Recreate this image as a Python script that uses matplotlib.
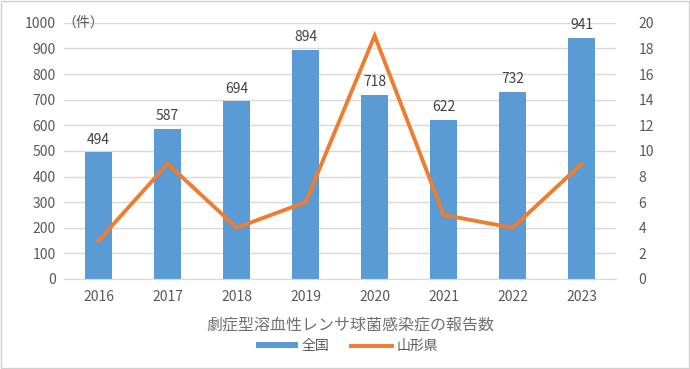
import matplotlib
matplotlib.use("Agg")
import matplotlib.pyplot as plt
from matplotlib.patches import Rectangle

plt.rcParams["font.family"] = ["Noto Sans CJK JP", "DejaVu Sans"]

years = ["2016", "2017", "2018", "2019", "2020", "2021", "2022", "2023"]
national = [494, 587, 694, 894, 718, 622, 732, 941]
yamagata = [3, 9, 4, 6, 19, 5, 4, 9]

BLUE = "#5b9bd5"
ORANGE = "#ed7d31"
GRAY = "#595959"
GRID = "#d9d9d9"

fig = plt.figure(figsize=(6.9, 3.69), dpi=100)
ax = fig.add_axes([0.093, 0.244, 0.800, 0.694])
ax2 = ax.twinx()

x = list(range(len(years)))
bars = ax.bar(x, national, width=0.39, color=BLUE, zorder=2, label="全国")
for b, v in zip(bars, national):
    ax.text(b.get_x() + b.get_width() / 2, v + 22, str(v), ha="center",
            va="bottom", fontsize=10, color="#404040")

ax2.plot(x, yamagata, color=ORANGE, lw=2.8, solid_joinstyle="miter", label="山形県")

ax.set_ylim(0, 1000)
ax.set_yticks(range(0, 1001, 100))
ax2.set_ylim(0, 20)
ax2.set_yticks(range(0, 21, 2))
ax.set_xlim(-0.5, len(years) - 0.5)
ax.set_xticks(x)
ax.set_xticklabels(years)

ax.grid(True, axis="y", color=GRID, lw=1, zorder=0)
ax.set_axisbelow(True)
for a in (ax, ax2):
    for s in a.spines.values():
        s.set_visible(False)
    a.tick_params(length=0, labelsize=10, labelcolor=GRAY, pad=6)
ax.spines["bottom"].set_visible(True)
ax.spines["bottom"].set_color(GRID)
ax.tick_params(axis="x", pad=8)
ax2.tick_params(pad=16)

ax.text(-0.52, 1000, "（件）", ha="left", va="center", fontsize=10,
        color=GRAY)

fig.text(0.508, 0.118, "劇症型溶血性レンサ球菌感染症の報告数", ha="center",
         va="center", fontsize=11.5, color="#707070")

h1, l1 = ax.get_legend_handles_labels()
h2, l2 = ax2.get_legend_handles_labels()
fig.legend(h1 + h2, l1 + l2, loc="center", bbox_to_anchor=(0.503, 0.063),
           ncol=2, frameon=False, fontsize=10, labelcolor=GRAY,
           handlelength=3.0, handleheight=0.3, handletextpad=0.3,
           columnspacing=1.5)

fig.patches.append(Rectangle((0.001, 0.002), 0.997, 0.995, transform=fig.transFigure,
                             fill=False, edgecolor="#d0d0d0", lw=1))

fig.savefig("out.png", dpi=100)
